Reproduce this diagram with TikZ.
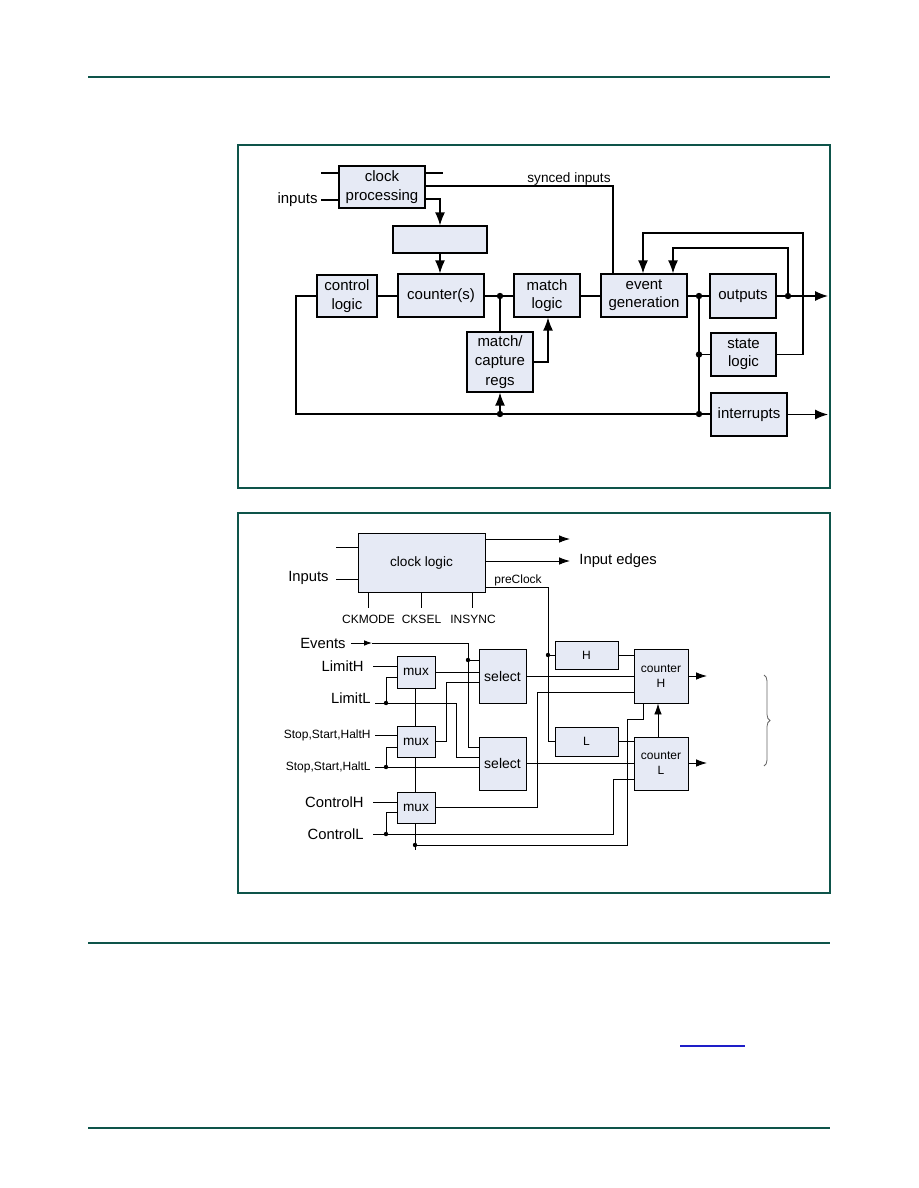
\documentclass[tikz,border=0pt]{standalone}
\usepackage{fontspec}
\setmainfont{Liberation Sans}
\usetikzlibrary{arrows.meta,shadows,decorations.pathreplacing}
\definecolor{boxfill}{RGB}{230,234,245}
\definecolor{teal}{RGB}{14,84,74}
\definecolor{linkblue}{RGB}{30,30,200}
\tikzset{
 tb/.style={draw=black, line width=0.6pt, fill=boxfill, inner sep=0pt, align=center, font=\fontsize{7.5}{9.2}\selectfont},
 sh/.style={drop shadow={shadow xshift=0.7pt,shadow yshift=-0.7pt,fill=black,opacity=1}},
 bb/.style={draw=black, line width=0.45pt, fill=boxfill, inner sep=0pt, align=center},
 ln/.style={line width=0.65pt},
 thk/.style={line width=1.2pt},
 arr/.style={line width=0.65pt, -{Latex[length=6.5pt,width=5pt]}},
 ln2/.style={line width=0.45pt},
 arr2/.style={line width=0.45pt, -{Latex[length=5.5pt,width=3.8pt]}},
 arr3/.style={line width=0.45pt, -{Latex[length=4pt,width=2.8pt]}},
 dot/.style={circle, fill=black, inner sep=0pt, minimum size=3.2pt},
 dotb/.style={circle, fill=black, inner sep=0pt, minimum size=2.2pt},
 lblT/.style={inner sep=0pt, font=\fontsize{7.5}{9}\selectfont},
 lblB/.style={inner sep=0pt, font=\fontsize{7.4}{9}\selectfont},
 lblS/.style={inner sep=0pt, font=\fontsize{6}{7}\selectfont},
 frm/.style={draw=teal, line width=0.8pt},
 rul/.style={draw=teal, line width=0.8pt}
}
\begin{document}
\begin{tikzpicture}[x=0.5pt,y=-0.5pt]
\useasboundingbox[fill=white] (0,0) rectangle (918,1188);
% page rules
\coordinate (r1a) at (88,77); \coordinate (r1b) at (830,77);
\coordinate (r2a) at (88,943); \coordinate (r2b) at (830,943);
\coordinate (r3a) at (88,1128); \coordinate (r3b) at (830,1128);
\draw[rul] (r1a) -- (r1b);
\draw[rul] (r2a) -- (r2b);
\draw[rul] (r3a) -- (r3b);
\coordinate (lk1) at (680,1046); \coordinate (lk2) at (745,1046);
\draw[linkblue, line width=0.6pt] (lk1) -- (lk2);
% frames
\draw[frm] (238,145) rectangle (830,488);
\draw[frm] (238,513) rectangle (830,893);

%================ TOP DIAGRAM =================
\node[tb, minimum width=43pt, minimum height=21pt] (clk) at (382,187) {clock\\processing};
\node[tb, minimum width=47pt, minimum height=13.5pt] (empty) at (440,239.5) {};
\node[tb, sh, minimum width=30pt, minimum height=21pt] (ctl) at (347,296) {control\\logic};
\node[tb, sh, minimum width=43pt, minimum height=21.5pt] (cnt) at (441,295.5) {counter(s)};
\node[tb, minimum width=33pt, minimum height=21.5pt] (mlog) at (547,295.5) {match\\logic};
\node[tb, minimum width=33pt, minimum height=30pt, font=\fontsize{7.5}{9.6}\selectfont] (regs) at (500,362) {match/\\capture\\regs};
\node[tb, minimum width=43pt, minimum height=21.5pt] (evg) at (644,295.5) {event\\generation};
\node[tb, sh, minimum width=33pt, minimum height=22pt] (out) at (743,296) {outputs};
\node[tb, minimum width=32.5pt, minimum height=21.5pt] (st) at (743.5,354.5) {state\\logic};
\node[tb, sh, minimum width=38pt, minimum height=21.5pt] (intr) at (749,414.5) {interrupts};

% clock processing inputs/outputs
\coordinate (a1) at (321,173); \coordinate (a2) at (443,173);
\draw[ln] (a1) -- (a1 -| clk.west);
\draw[ln] (clk.east |- a2) -- (a2);
\node[lblT, anchor=east] (inp) at (318,200) {inputs};
\coordinate (a3) at (321,200);
\draw[ln] (a3) -- (a3 -| clk.west);
% synced inputs
\coordinate (s1) at (613,186);
\draw[ln] (clk.east |- s1) -- (s1) -- (s1 |- evg.north);
\node[inner sep=0pt, font=\fontsize{6.8}{8}\selectfont] (syn) at (569,179) {synced inputs};
% clock -> empty -> counter
\coordinate (c1) at (440,199);
\draw[arr] (clk.east |- c1) -- (c1) -- (c1 |- empty.north);
\draw[arr] (empty.south) -- (empty.south |- cnt.north);
% control logic -> counter
\draw[ln] (ctl.east) -- (ctl.east -| cnt.west);
% control loop
\coordinate (b1) at (296,414);
\coordinate (b2) at (500,414);
\coordinate (b3) at (699,414);
\draw[line width=0.9pt] (ctl.west) -- (ctl.west -| b1) -- (b1) -- (b3);
\draw[ln] (b3) -- (b3 -| intr.west);
\node[dot] (db2) at (b2) {};
\draw[arr] (b2) -- (regs.south);
% counter -> match logic
\coordinate (d1) at (500,296);
\draw[ln] (cnt.east |- d1) -- (d1 -| mlog.west);
\node[dot] (dd1) at (d1) {};
\draw[ln] (d1) -- (regs.north);
% regs -> match logic
\coordinate (m1) at (548,362);
\draw[arr] (regs.east |- m1) -- (m1) -- (m1 |- mlog.south);
% match logic -> event generation
\draw[thk] (mlog.east |- d1) -- (d1 -| evg.west);
% event generation -> outputs
\coordinate (d2) at (699,296);
\draw[thk] (evg.east |- d2) -- (d2);
\draw[ln] (d2) -- (d2 -| out.west);
\node[dot] (dd2) at (d2) {};
% outputs out
\coordinate (d3) at (788,296);
\coordinate (o1) at (828,296);
\draw[arr] (out.east |- d3) -- (o1);
\node[dot] (dd3) at (d3) {};
% feedback inner
\coordinate (f1) at (788,248); \coordinate (f2) at (673,248);
\draw[arr] (d3) -- (f1) -- (f2) -- (f2 |- evg.north);
% feedback outer from state logic
\coordinate (g1) at (803,233); \coordinate (g2) at (643,233);
\draw[arr] (st.east) -- (st.east -| g1) -- (g1) -- (g2) -- (g2 |- evg.north);
% vertical distribution
\draw[ln] (d2) -- (b3);
\coordinate (d4) at (699,354.5);
\draw[ln] (d4) -- (st.west);
\node[dot] (dd4) at (d4) {};
\node[dot] (db3) at (b3) {};
% interrupts out
\coordinate (o2) at (828,414.5);
\draw[arr] (intr.east) -- (o2);

%================ BOTTOM DIAGRAM =================
\node[bb, minimum width=63.5pt, minimum height=29.5pt, font=\fontsize{6.8}{8}\selectfont] (clkl) at (421.5,562.5) {clock logic};
\node[bb, minimum width=23.5pt, minimum height=27pt, font=\fontsize{7}{8}\selectfont] (sel1) at (502.5,676) {select};
\node[bb, minimum width=23.5pt, minimum height=26.5pt, font=\fontsize{7}{8}\selectfont] (sel2) at (502.5,763.5) {select};
\node[bb, minimum width=19pt, minimum height=16pt, font=\fontsize{6.8}{8}\selectfont] (mux1) at (416,672) {mux};
\node[bb, minimum width=19pt, minimum height=15.5pt, font=\fontsize{6.8}{8}\selectfont] (mux2) at (416,741.5) {mux};
\node[bb, minimum width=19pt, minimum height=15.5pt, font=\fontsize{6.8}{8}\selectfont] (mux3) at (416,807.5) {mux};
\node[bb, minimum width=31.5pt, minimum height=14pt, font=\fontsize{6}{7}\selectfont] (hbox) at (586.5,655) {H};
\node[bb, minimum width=31.5pt, minimum height=14.5pt, font=\fontsize{6}{7}\selectfont] (lbox) at (586.5,741.5) {L};
\node[bb, minimum width=27pt, minimum height=27pt, font=\fontsize{6}{7.6}\selectfont] (cH) at (661,676) {counter\\H};
\node[bb, minimum width=27pt, minimum height=26.5pt, font=\fontsize{6}{7.6}\selectfont] (cL) at (661,763.5) {counter\\L};

% clock logic inputs
\coordinate (i1) at (336,547);
\draw[ln2] (i1) -- (i1 -| clkl.west);
\node[lblB, anchor=east] (Inp) at (329,578) {Inputs};
\coordinate (i2) at (336,579);
\draw[ln2] (i2) -- (i2 -| clkl.west);
% stubs below clock logic
\coordinate (k1) at (368,608); \coordinate (k2) at (421,608); \coordinate (k3) at (472,608);
\draw[ln2] (k1 |- clkl.south) -- (k1);
\draw[ln2] (k2 |- clkl.south) -- (k2);
\draw[ln2] (k3 |- clkl.south) -- (k3);
\node[lblS] (ckm) at (368.5,619) {CKMODE};
\node[lblS] (cks) at (421.5,619) {CKSEL};
\node[lblS] (ins) at (473,619) {INSYNC};
% outputs of clock logic
\coordinate (e1) at (570,539); \coordinate (e2) at (570,561);
\draw[arr2] (clkl.east |- e1) -- (e1);
\draw[arr2] (clkl.east |- e2) -- (e2);
\node[lblB, anchor=west] (ied) at (579,561) {Input edges};
% preClock
\coordinate (p1) at (548,587);
\coordinate (p2) at (548,655);
\draw[ln2] (clkl.east |- p1) -- (p1) -- (p1 |- lbox.west) -- (lbox.west);
\node[lblS, anchor=west] (pre) at (494,580) {preClock};
\draw[ln2] (p2) -- (hbox.west);
\node[dotb] (dp2) at (p2) {};
% H/L to counters
\draw[ln2] (hbox.east) -- (hbox.east -| cH.west);
\draw[ln2] (lbox.east) -- (lbox.east -| cL.west);
% counter L -> counter H
\coordinate (u1) at (658,737);
\draw[arr2] (u1 |- cL.north) -- (u1 |- cH.south);
% counter outputs
\coordinate (co1) at (707,676); \coordinate (co2) at (707,763);
\draw[arr2] (cH.east |- co1) -- (co1);
\draw[arr2] (cL.east |- co2) -- (co2);
% brace
\coordinate (br1) at (764,675); \coordinate (br2) at (764,766);
\draw[black!60, line width=0.4pt, decorate, decoration={brace, amplitude=3pt}] (br1) -- (br2);

% Events
\node[lblB, anchor=east] (ev) at (346,643) {Events};
\coordinate (v0) at (351,643); \coordinate (v1) at (372,643);
\coordinate (v2) at (468,643); \coordinate (v3) at (468,660); \coordinate (v4) at (468,747);
\draw[arr3] (v0) -- (v1);
\draw[ln2] (v1) -- (v2) -- (v4) -- (v4 -| sel2.west);
\draw[ln2] (v3) -- (v3 -| sel1.west);
\node[dotb] (dv3) at (v3) {};
% LimitH
\node[lblB, anchor=east] (lh) at (364,666) {LimitH};
\coordinate (lh1) at (373,666);
\draw[ln2] (lh1) -- (lh1 -| mux1.west);
% LimitL
\node[lblB, anchor=east] (ll) at (371,698) {LimitL};
\coordinate (ll1) at (375,703); \coordinate (ll2) at (386,703); \coordinate (ll3) at (456,703);
\coordinate (ll4) at (456,757); \coordinate (ll5) at (386,677);
\draw[ln2] (ll1) -- (ll3) -- (ll4) -- (ll4 -| sel2.west);
\draw[ln2] (ll2) -- (ll5) -- (ll5 -| mux1.west);
\node[dotb] (dll2) at (ll2) {};
% mux1 -> select1
\draw[ln2] (mux1.east) -- (mux1.east -| sel1.west);
% mux2 -> select1
\coordinate (x1) at (446,741); \coordinate (x2) at (446,682);
\draw[ln2] (mux2.east |- x1) -- (x1) -- (x2) -- (x2 -| sel1.west);
% mux chain
\coordinate (mc) at (415,850); \coordinate (mcd) at (415,845);
\draw[ln2] (mux1.south -| mcd) -- (mux2.north -| mcd);
\draw[ln2] (mux2.south -| mcd) -- (mux3.north -| mcd);
\draw[ln2] (mux3.south -| mcd) -- (mc);
\node[dotb] (dmc) at (mcd) {};
\coordinate (y1) at (627,845); \coordinate (y2) at (627,719); \coordinate (y3) at (643,719);
\draw[ln2] (mcd) -- (y1) -- (y2) -- (y3) -- (y3 |- cH.south);
% Stop,Start,HaltH
\node[lblS, anchor=east] (ssh) at (371,735) {Stop,Start,HaltH};
\coordinate (sh1) at (375,735);
\draw[ln2] (sh1) -- (sh1 -| mux2.west);
% Stop,Start,HaltL
\node[lblS, anchor=east] (ssl) at (371,767) {Stop,Start,HaltL};
\coordinate (sl1) at (375,767); \coordinate (sl2) at (386,767); \coordinate (sl3) at (386,747);
\draw[ln2] (sl1) -- (sl1 -| sel2.west);
\draw[ln2] (sl2) -- (sl3) -- (sl3 -| mux2.west);
\node[dotb] (dsl2) at (sl2) {};
% ControlH
\node[lblB, anchor=east] (ch) at (364,802) {ControlH};
\coordinate (ch1) at (373,802);
\draw[ln2] (ch1) -- (ch1 -| mux3.west);
% ControlL
\node[lblB, anchor=east] (cl) at (364,834) {ControlL};
\coordinate (cl1) at (373,834); \coordinate (cl2) at (386,834); \coordinate (cl3) at (386,812);
\coordinate (cl4) at (613,834); \coordinate (cl5) at (613,779);
\draw[ln2] (cl1) -- (cl4) -- (cl5) -- (cl5 -| cL.west);
\draw[ln2] (cl2) -- (cl3) -- (cl3 -| mux3.west);
\node[dotb] (dcl2) at (cl2) {};
% mux3 -> counter H
\coordinate (z1) at (537,807); \coordinate (z2) at (537,692);
\draw[ln2] (mux3.east |- z1) -- (z1) -- (z2) -- (z2 -| cH.west);
% selects -> counters
\draw[ln2] (sel1.east) -- (sel1.east -| cH.west);
\draw[ln2] (sel2.east) -- (sel2.east -| cL.west);
\end{tikzpicture}
\end{document}
